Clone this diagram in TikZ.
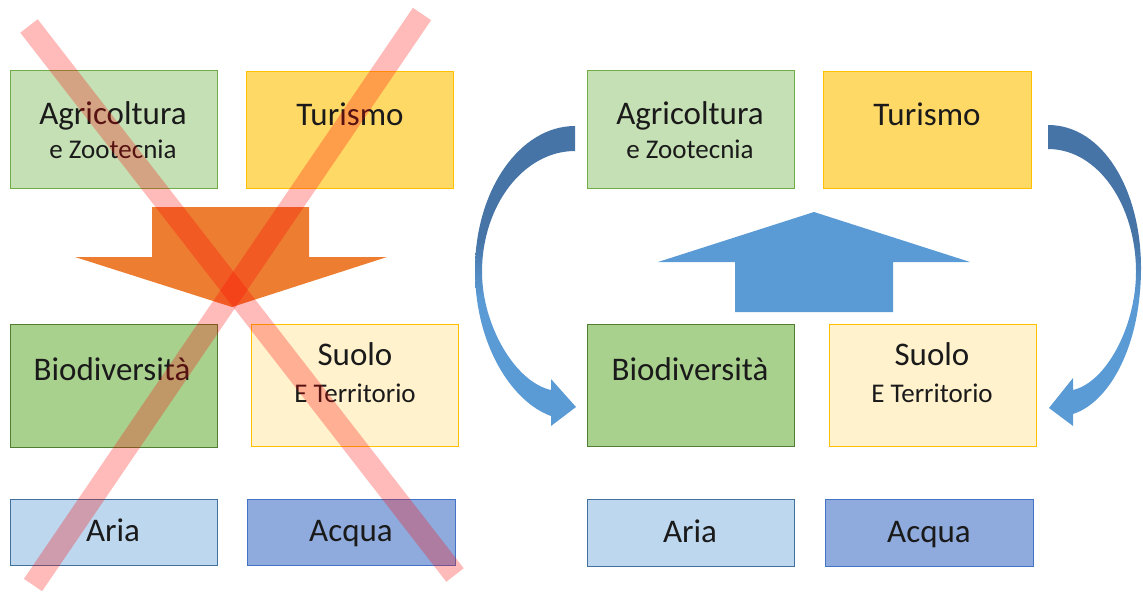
\documentclass[tikz,border=0pt]{standalone}
\usepackage{fontspec}
\setmainfont{Carlito}
\definecolor{agriF}{HTML}{C5E0B4}
\definecolor{agriB}{HTML}{70AD47}
\definecolor{turF}{HTML}{FFD966}
\definecolor{turB}{HTML}{FFC000}
\definecolor{bioF}{HTML}{A9D18E}
\definecolor{bioB}{HTML}{507E32}
\definecolor{suoF}{HTML}{FFF2CC}
\definecolor{suoB}{HTML}{FFC000}
\definecolor{ariaF}{HTML}{BDD7EE}
\definecolor{ariaB}{HTML}{41719C}
\definecolor{acqF}{HTML}{8FAADC}
\definecolor{acqB}{HTML}{4472C4}
\definecolor{orangeA}{HTML}{ED7D31}
\definecolor{blueA}{HTML}{5B9BD5}
\definecolor{blueD}{HTML}{4674A6}
\definecolor{txt}{HTML}{1A1A1A}
\newcommand\lcurvepath{(575,126) .. controls (520,126) and (475,190) .. (475,270) .. controls (475,345) and (512,402) .. (551,416) -- (551,426) -- (576,407) -- (551,379) -- (551,390) .. controls (515,382) and (482,325) .. (482,272) .. controls (482,205) and (524,151) .. (575,151) -- cycle}
\newcommand\rcurvepath{(1048,125) .. controls (1103,125) and (1141,190) .. (1141,268) .. controls (1141,345) and (1110,402) .. (1073,414) -- (1073,426) -- (1049,408) -- (1073,378) -- (1073,390) .. controls (1107,382) and (1136,325) .. (1136,272) .. controls (1136,205) and (1098,149) .. (1048,149) -- cycle}
\tikzset{
  box/.style={draw, line width=1.3pt, minimum width=207pt, anchor=north west, inner sep=0pt},
  big/.style={anchor=base, text=txt, font=\fontsize{33}{33}\selectfont},
  small/.style={anchor=base, text=txt, font=\fontsize{27}{27}\selectfont},
  cross/.style={draw=red, opacity=0.27, line width=22pt},
}
\begin{document}
\begin{tikzpicture}[x=1pt,y=-1pt]
\useasboundingbox (0,0) rectangle (1143,592);
% ---------- left panel ----------
\node[box, fill=agriF, draw=agriB, minimum height=118pt] (la) at (10,70) {};
\node[box, fill=turF, draw=turB, minimum height=117pt] (lt) at (246,71) {};
\node[box, fill=bioF, draw=bioB, minimum height=123pt] (lb) at (10,324) {};
\node[box, fill=suoF, draw=suoB, minimum height=122pt] (ls) at (251,324) {};
\node[box, fill=ariaF, draw=ariaB, minimum height=66pt] (lr) at (10,499) {};
\node[box, fill=acqF, draw=acqB, minimum height=66pt, minimum width=208pt] (lq) at (247,499) {};
\node[big] (la1) at (113,124) {Agricoltura};
\node[small] (la2) at (113,158) {e Zootecnia};
\node[big] (lt1) at (350,125) {Turismo};
\node[big] (lb1) at (112,380) {Biodiversità};
\node[big] (ls1) at (355,365) {Suolo};
\node[small] (ls2) at (355,402) {E Territorio};
\node[big] (lr1) at (113,541) {Aria};
\node[big] (lq1) at (351,541) {Acqua};
\fill[orangeA] (152,207) -- (309,207) -- (309,257) -- (387,257) -- (232,307) -- (75,257) -- (152,257) -- cycle;
% ---------- right panel ----------
\node[box, fill=agriF, draw=agriB, minimum height=118pt] (ra) at (587,70) {};
\node[box, fill=turF, draw=turB, minimum height=117pt, minimum width=208pt] (rt) at (823,71) {};
\node[box, fill=bioF, draw=bioB, minimum height=122pt] (rb) at (587,324) {};
\node[box, fill=suoF, draw=suoB, minimum height=122pt] (rs) at (829,324) {};
\node[box, fill=ariaF, draw=ariaB, minimum height=67pt] (rr) at (587,499) {};
\node[box, fill=acqF, draw=acqB, minimum height=67pt, minimum width=208pt] (rq) at (825,499) {};
\node[big] (ra1) at (690,124) {Agricoltura};
\node[small] (ra2) at (690,158) {e Zootecnia};
\node[big] (rt1) at (927,125) {Turismo};
\node[big] (rb1) at (690,380) {Biodiversità};
\node[big] (rs1) at (932,365) {Suolo};
\node[small] (rs2) at (932,402) {E Territorio};
\node[big] (rr1) at (690,542) {Aria};
\node[big] (rq1) at (929,542) {Acqua};
\fill[blueA] (735,312) -- (893,312) -- (893,262) -- (970,262) -- (814,212) -- (658,262) -- (735,262) -- cycle;
\begin{scope}
  \clip \lcurvepath;
  \fill[blueD] (460,110) rectangle (600,240);
  \shade[top color=blueD, bottom color=blueA] (460,240) rectangle (600,300);
  \fill[blueA] (460,300) rectangle (600,440);
\end{scope}
\begin{scope}
  \clip \rcurvepath;
  \fill[blueD] (1030,110) rectangle (1143,240);
  \shade[top color=blueD, bottom color=blueA] (1030,240) rectangle (1143,300);
  \fill[blueA] (1030,300) rectangle (1143,440);
\end{scope}
% ---------- red cross ----------
\coordinate (x1a) at (29,26);
\coordinate (x1b) at (455,575);
\coordinate (x2a) at (422,14);
\coordinate (x2b) at (33,585);
\draw[cross] (x1a) -- (x1b);
\draw[cross] (x2a) -- (x2b);
\end{tikzpicture}
\end{document}
